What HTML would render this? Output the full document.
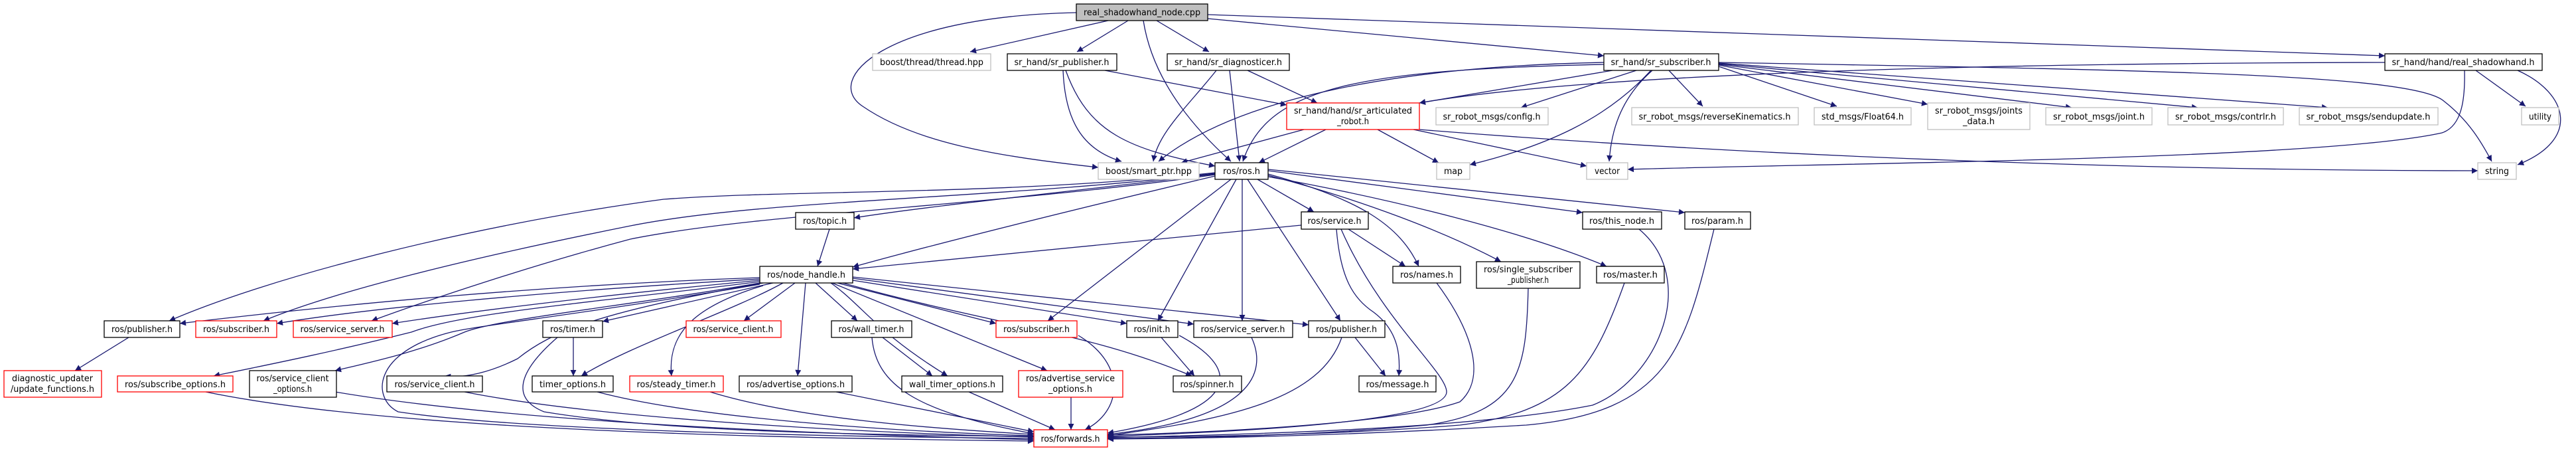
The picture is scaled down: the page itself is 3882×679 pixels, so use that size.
<!DOCTYPE html>
<html><head><meta charset="utf-8"><style>html,body{margin:0;padding:0;background:#fff}svg{display:block}</style></head>
<body>
<svg width="3882" height="679" viewBox="0 0 3882 679" xmlns="http://www.w3.org/2000/svg" font-family="'DejaVu Sans','Liberation Sans',sans-serif" font-size="13">
<defs>
<marker id="a" viewBox="0 0 10 10" refX="10" refY="5" markerWidth="11" markerHeight="9" markerUnits="userSpaceOnUse" orient="auto"><path d="M0,0 L10,5 L0,10 z" fill="#191970"/></marker>
</defs>
<g fill="none" stroke="#191970" stroke-width="1.3" marker-end="url(#a)">
<path d="M1670,31 L1462,78"/>
<path d="M1700,31 L1623,78"/>
<path d="M1723,31 Q1740,140 1855,243"/>
<path d="M1743,31 L1822,78"/>
<path d="M1820,28 L2417,84"/>
<path d="M1820,22 L3594,84"/>
<path d="M1622,19 C1330,25 1240,120 1300,160 C1380,215 1500,235 1655,252"/>
<path d="M1602,106 C1605,180 1630,225 1690,243"/>
<path d="M1606,106 C1640,200 1700,225 1831,250"/>
<path d="M1665,106 L1939,158"/>
<path d="M1833,106 C1790,160 1745,200 1738,243"/>
<path d="M1853,106 L1868,243"/>
<path d="M1880,106 L1985,155"/>
<path d="M2430,106 L2139,155"/>
<path d="M2417,94 C2100,100 1860,150 1746,243"/>
<path d="M2417,97 C2050,105 1910,130 1873,243"/>
<path d="M2466,106 L2292,162"/>
<path d="M2515,106 L2566,160"/>
<path d="M2488,106 C2420,180 2330,220 2215,248"/>
<path d="M2490,106 C2440,150 2428,200 2425,243"/>
<path d="M2590,100 L2768,160"/>
<path d="M2590,98 L2905,157"/>
<path d="M2590,97 L3122,162"/>
<path d="M2590,96 L3312,162"/>
<path d="M2590,95 L3508,162"/>
<path d="M2590,94 C3200,105 3620,110 3680,150 C3720,180 3740,215 3755,243"/>
<path d="M3594,94 C3000,95 2400,110 2139,155"/>
<path d="M3714,106 C3715,150 3710,190 3680,200 C3500,240 2800,245 2453,255"/>
<path d="M3731,106 L3806,160"/>
<path d="M3794,106 C3870,140 3890,210 3794,248"/>
<path d="M1965,195 L1780,245"/>
<path d="M1998,195 L1897,245"/>
<path d="M2076,195 L2168,245"/>
<path d="M2130,195 L2391,250"/>
<path d="M2139,195 C2700,240 3300,257 3734,257"/>
<path d="M1831,262 C1600,290 1400,310 1287,328"/>
<path d="M1250,345 L1232,401"/>
<path d="M1831,265 C1600,320 1400,370 1285,402"/>
<path d="M1831,260 C1500,295 1200,285 1000,300 C700,340 400,420 255,483"/>
<path d="M1831,261 C1500,300 1150,300 950,340 C700,390 500,440 397,483"/>
<path d="M1831,263 C1500,310 1150,320 950,360 C800,400 650,450 560,483"/>
<path d="M1895,270 L1980,319"/>
<path d="M1911,257 L2385,320"/>
<path d="M1911,255 L2539,320"/>
<path d="M1911,262 C2050,300 2110,340 2138,401"/>
<path d="M1911,264 C2050,300 2180,350 2262,394"/>
<path d="M1911,266 C2100,300 2300,350 2421,401"/>
<path d="M1855,270 L1579,483"/>
<path d="M1863,270 L1745,483"/>
<path d="M1872,270 L1872,483"/>
<path d="M1880,270 L2020,483"/>
<path d="M1961,339 L1285,405"/>
<path d="M2032,345 L2118,401"/>
<path d="M2014,345 C2020,420 2040,450 2070,470 C2110,500 2110,540 2108,566"/>
<path d="M2021,345 C2080,480 2180,560 2180,590 C2180,640 1800,652 1669,657"/>
<path d="M2470,345 C2560,420 2500,570 2400,610 C2200,650 1800,655 1669,659"/>
<path d="M2583,345 C2540,520 2520,620 2300,640 C2000,658 1780,660 1669,661"/>
<path d="M2165,426 C2220,500 2240,570 2200,605 C2100,640 1800,652 1669,655"/>
<path d="M2303,434 C2300,560 2290,620 2150,640 C1950,658 1750,660 1669,660"/>
<path d="M2448,426 C2400,560 2360,620 2200,640 C2000,656 1780,658 1669,658"/>
<path d="M1145,418 C800,430 500,460 271,487"/>
<path d="M1145,420 C800,440 550,465 417,487"/>
<path d="M1145,422 C900,445 700,470 591,487"/>
<path d="M1145,424 C900,455 700,470 620,500 C500,530 400,550 322,566"/>
<path d="M1145,426 C950,460 750,480 700,500 C630,530 560,545 505,558"/>
<path d="M1150,426 C900,470 830,500 780,540 C740,560 700,570 670,566"/>
<path d="M1165,426 L908,484"/>
<path d="M1180,426 C1100,470 950,520 876,566"/>
<path d="M1150,430 C1050,460 1005,500 1012,566"/>
<path d="M1198,426 L1121,483"/>
<path d="M1214,426 L1202,566"/>
<path d="M1229,426 L1292,483"/>
<path d="M1252,426 C1300,460 1320,500 1428,566"/>
<path d="M1254,426 L1578,558"/>
<path d="M1262,426 L1501,487"/>
<path d="M1270,426 C1500,490 1640,500 1796,566"/>
<path d="M1285,422 L1698,487"/>
<path d="M1285,419 L1799,488"/>
<path d="M1285,417 L1972,489"/>
<path d="M1145,428 C900,470 720,490 680,500 C560,530 560,600 600,620 C800,650 1300,658 1558,660"/>
<path d="M194,508 L113,558"/>
<path d="M864,508 L864,566"/>
<path d="M840,508 C780,560 770,600 820,620 C1000,650 1300,655 1558,657"/>
<path d="M1330,508 L1405,566"/>
<path d="M1314,508 C1320,580 1380,620 1558,653"/>
<path d="M1750,508 L1800,566"/>
<path d="M1777,505 C1880,560 1860,620 1669,652"/>
<path d="M1886,508 C1910,560 1890,630 1669,654"/>
<path d="M2042,508 L2088,566"/>
<path d="M2022,508 C1990,600 1860,630 1669,656"/>
<path d="M1625,505 C1700,550 1690,620 1635,647"/>
<path d="M1614,598 L1614,647"/>
<path d="M1460,590 L1590,647"/>
<path d="M1260,590 L1558,650"/>
<path d="M1070,590 C1200,630 1400,645 1558,654"/>
<path d="M900,590 C1050,630 1350,650 1558,656"/>
<path d="M700,590 C900,630 1300,652 1558,658"/>
<path d="M505,590 C800,640 1300,655 1558,662"/>
<path d="M310,590 C600,650 1200,660 1558,664"/>
</g>
<g stroke-width="1.3">
<g fill="#fff" stroke="#000">
<rect x="1622" y="6" width="198" height="25" fill="#bfbfbf"/>
<rect x="1518" y="81" width="165" height="25"/>
<rect x="1759" y="81" width="184" height="25"/>
<rect x="2417" y="81" width="173" height="25"/>
<rect x="3594" y="81" width="237" height="25"/>
<rect x="1831" y="245" width="80" height="25"/>
<rect x="1199" y="320" width="88" height="25"/>
<rect x="1961" y="319" width="101" height="26"/>
<rect x="2385" y="319" width="119" height="26"/>
<rect x="2539" y="319" width="99" height="26"/>
<rect x="1145" y="401" width="140" height="25"/>
<rect x="2099" y="401" width="102" height="25"/>
<rect x="2225" y="394" width="156" height="40"/>
<rect x="2406" y="401" width="102" height="25"/>
<rect x="157" y="483" width="114" height="25"/>
<rect x="818" y="483" width="90" height="25"/>
<rect x="1253" y="483" width="121" height="25"/>
<rect x="1698" y="483" width="77" height="25"/>
<rect x="1799" y="483" width="149" height="25"/>
<rect x="1972" y="483" width="115" height="25"/>
<rect x="376" y="558" width="131" height="40"/>
<rect x="583" y="566" width="144" height="24"/>
<rect x="802" y="566" width="122" height="24"/>
<rect x="1114" y="566" width="170" height="24"/>
<rect x="1359" y="566" width="152" height="24"/>
<rect x="1768" y="566" width="103" height="24"/>
<rect x="2048" y="566" width="116" height="24"/>
</g>
<g fill="#fff" stroke="#ff0000">
<rect x="1939" y="155" width="200" height="40"/>
<rect x="295" y="483" width="122" height="25"/>
<rect x="442" y="483" width="149" height="25"/>
<rect x="1034" y="483" width="143" height="25"/>
<rect x="1501" y="483" width="122" height="25"/>
<rect x="6" y="558" width="147" height="40"/>
<rect x="177" y="566" width="174" height="24"/>
<rect x="949" y="566" width="141" height="24"/>
<rect x="1535" y="558" width="157" height="40"/>
<rect x="1558" y="647" width="111" height="26"/>
</g>
<g fill="#fff" stroke="#bfbfbf">
<rect x="1315" y="81" width="178" height="25"/>
<rect x="2164" y="162" width="169" height="26"/>
<rect x="2459" y="162" width="251" height="26"/>
<rect x="2734" y="162" width="146" height="26"/>
<rect x="2905" y="155" width="154" height="40"/>
<rect x="3083" y="162" width="160" height="26"/>
<rect x="3267" y="162" width="174" height="26"/>
<rect x="3465" y="162" width="209" height="26"/>
<rect x="3800" y="162" width="56" height="26"/>
<rect x="1655" y="245" width="152" height="25"/>
<rect x="2165" y="245" width="50" height="25"/>
<rect x="2391" y="245" width="62" height="25"/>
<rect x="3734" y="245" width="58" height="25"/>
</g>
</g>
<g fill="#000" text-anchor="middle">
<text x="1721" y="23" textLength="176" lengthAdjust="spacingAndGlyphs">real_shadowhand_node.cpp</text>
<text x="1404" y="98" textLength="156" lengthAdjust="spacingAndGlyphs">boost/thread/thread.hpp</text>
<text x="1600" y="98" textLength="143" lengthAdjust="spacingAndGlyphs">sr_hand/sr_publisher.h</text>
<text x="1851" y="98" textLength="162" lengthAdjust="spacingAndGlyphs">sr_hand/sr_diagnosticer.h</text>
<text x="2503" y="98" textLength="151" lengthAdjust="spacingAndGlyphs">sr_hand/sr_subscriber.h</text>
<text x="3712" y="98" textLength="215" lengthAdjust="spacingAndGlyphs">sr_hand/hand/real_shadowhand.h</text>
<text x="2039" y="171" textLength="178" lengthAdjust="spacingAndGlyphs">sr_hand/hand/sr_articulated</text>
<text x="2039" y="187" textLength="48" lengthAdjust="spacingAndGlyphs">_robot.h</text>
<text x="2248" y="180" textLength="147" lengthAdjust="spacingAndGlyphs">sr_robot_msgs/config.h</text>
<text x="2584" y="180" textLength="229" lengthAdjust="spacingAndGlyphs">sr_robot_msgs/reverseKinematics.h</text>
<text x="2807" y="180" textLength="124" lengthAdjust="spacingAndGlyphs">std_msgs/Float64.h</text>
<text x="2982" y="171" textLength="132" lengthAdjust="spacingAndGlyphs">sr_robot_msgs/joints</text>
<text x="2982" y="187" textLength="48" lengthAdjust="spacingAndGlyphs">_data.h</text>
<text x="3163" y="180" textLength="138" lengthAdjust="spacingAndGlyphs">sr_robot_msgs/joint.h</text>
<text x="3354" y="180" textLength="152" lengthAdjust="spacingAndGlyphs">sr_robot_msgs/contrlr.h</text>
<text x="3569" y="180" textLength="187" lengthAdjust="spacingAndGlyphs">sr_robot_msgs/sendupdate.h</text>
<text x="3828" y="180" textLength="34" lengthAdjust="spacingAndGlyphs">utility</text>
<text x="1731" y="262" textLength="130" lengthAdjust="spacingAndGlyphs">boost/smart_ptr.hpp</text>
<text x="1871" y="262" textLength="56" lengthAdjust="spacingAndGlyphs">ros/ros.h</text>
<text x="2190" y="262" textLength="28" lengthAdjust="spacingAndGlyphs">map</text>
<text x="2422" y="262" textLength="38" lengthAdjust="spacingAndGlyphs">vector</text>
<text x="3763" y="262" textLength="36" lengthAdjust="spacingAndGlyphs">string</text>
<text x="1243" y="337" textLength="66" lengthAdjust="spacingAndGlyphs">ros/topic.h</text>
<text x="2011" y="337" textLength="81" lengthAdjust="spacingAndGlyphs">ros/service.h</text>
<text x="2444" y="337" textLength="98" lengthAdjust="spacingAndGlyphs">ros/this_node.h</text>
<text x="2588" y="337" textLength="78" lengthAdjust="spacingAndGlyphs">ros/param.h</text>
<text x="1215" y="418" textLength="118" lengthAdjust="spacingAndGlyphs">ros/node_handle.h</text>
<text x="2150" y="418" textLength="80" lengthAdjust="spacingAndGlyphs">ros/names.h</text>
<text x="2303" y="410" textLength="134" lengthAdjust="spacingAndGlyphs">ros/single_subscriber</text>
<text x="2303" y="426" textLength="62" lengthAdjust="spacingAndGlyphs">_publisher.h</text>
<text x="2457" y="418" textLength="82" lengthAdjust="spacingAndGlyphs">ros/master.h</text>
<text x="214" y="500" textLength="92" lengthAdjust="spacingAndGlyphs">ros/publisher.h</text>
<text x="356" y="500" textLength="100" lengthAdjust="spacingAndGlyphs">ros/subscriber.h</text>
<text x="516" y="500" textLength="127" lengthAdjust="spacingAndGlyphs">ros/service_server.h</text>
<text x="863" y="500" textLength="68" lengthAdjust="spacingAndGlyphs">ros/timer.h</text>
<text x="1105" y="500" textLength="121" lengthAdjust="spacingAndGlyphs">ros/service_client.h</text>
<text x="1313" y="500" textLength="99" lengthAdjust="spacingAndGlyphs">ros/wall_timer.h</text>
<text x="1562" y="500" textLength="100" lengthAdjust="spacingAndGlyphs">ros/subscriber.h</text>
<text x="1736" y="500" textLength="55" lengthAdjust="spacingAndGlyphs">ros/init.h</text>
<text x="1873" y="500" textLength="127" lengthAdjust="spacingAndGlyphs">ros/service_server.h</text>
<text x="2029" y="500" textLength="92" lengthAdjust="spacingAndGlyphs">ros/publisher.h</text>
<text x="79" y="574" textLength="122" lengthAdjust="spacingAndGlyphs">diagnostic_updater</text>
<text x="79" y="590" textLength="126" lengthAdjust="spacingAndGlyphs">/update_functions.h</text>
<text x="264" y="583" textLength="152" lengthAdjust="spacingAndGlyphs">ros/subscribe_options.h</text>
<text x="441" y="574" textLength="109" lengthAdjust="spacingAndGlyphs">ros/service_client</text>
<text x="441" y="590" textLength="58" lengthAdjust="spacingAndGlyphs">_options.h</text>
<text x="655" y="583" textLength="121" lengthAdjust="spacingAndGlyphs">ros/service_client.h</text>
<text x="863" y="583" textLength="100" lengthAdjust="spacingAndGlyphs">timer_options.h</text>
<text x="1019" y="583" textLength="119" lengthAdjust="spacingAndGlyphs">ros/steady_timer.h</text>
<text x="1199" y="583" textLength="148" lengthAdjust="spacingAndGlyphs">ros/advertise_options.h</text>
<text x="1435" y="583" textLength="130" lengthAdjust="spacingAndGlyphs">wall_timer_options.h</text>
<text x="1613" y="574" textLength="134" lengthAdjust="spacingAndGlyphs">ros/advertise_service</text>
<text x="1613" y="590" textLength="66" lengthAdjust="spacingAndGlyphs">_options.h</text>
<text x="1819" y="583" textLength="81" lengthAdjust="spacingAndGlyphs">ros/spinner.h</text>
<text x="2106" y="583" textLength="95" lengthAdjust="spacingAndGlyphs">ros/message.h</text>
<text x="1613" y="665" textLength="89" lengthAdjust="spacingAndGlyphs">ros/forwards.h</text>
</g>
</svg>
</body></html>
